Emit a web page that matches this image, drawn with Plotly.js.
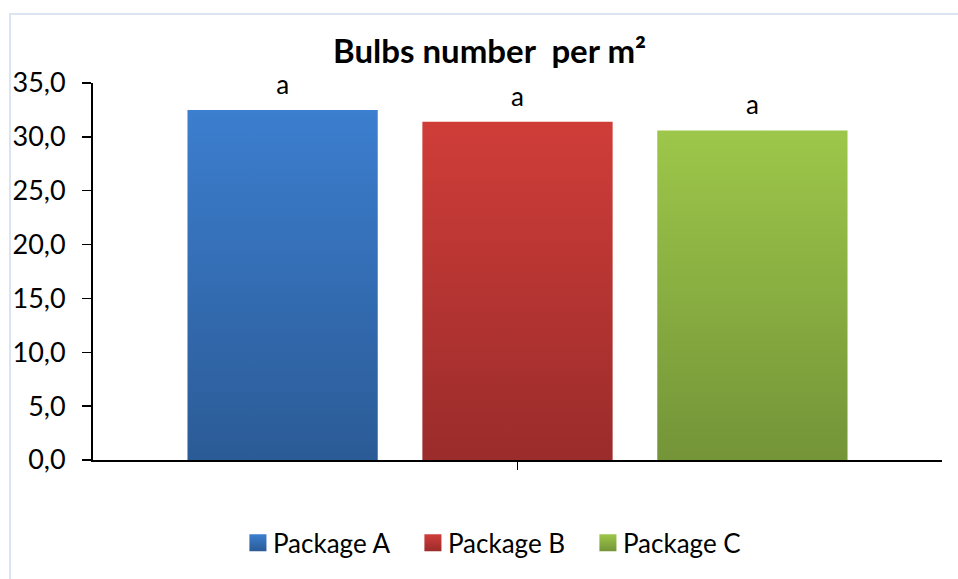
<!DOCTYPE html>
<html>
<head>
<meta charset="utf-8">
<script src="https://cdn.plot.ly/plotly-3.0.1.min.js"></script>
<style>
  html, body { margin: 0; padding: 0; background: #fff; }
  #wrap { position: relative; width: 958px; height: 579px; overflow: hidden; }
  #chart { position: absolute; left: 0; top: 0; width: 958px; height: 579px; }
  #frame { position: absolute; left: 9px; top: 13px; width: 980px; height: 600px;
           border: 2px solid #dbe5f1; pointer-events: none; box-sizing: border-box; }
</style>
</head>
<body>
<svg width="0" height="0" style="position:absolute">
  <defs>
    <linearGradient id="g0" x1="0" y1="0" x2="0" y2="1">
      <stop offset="0" stop-color="#3c7ecf"/><stop offset="1" stop-color="#2b5b96"/>
    </linearGradient>
    <linearGradient id="g1" x1="0" y1="0" x2="0" y2="1">
      <stop offset="0" stop-color="#d03d39"/><stop offset="1" stop-color="#9a2c2b"/>
    </linearGradient>
    <linearGradient id="g2" x1="0" y1="0" x2="0" y2="1">
      <stop offset="0" stop-color="#9dc74a"/><stop offset="1" stop-color="#749438"/>
    </linearGradient>
  </defs>
</svg>
<div id="wrap">
  <div id="chart"></div>
  <div id="frame"></div>
</div>
<script>
const categories = [""];
const seriesNames = ["Package A", "Package B", "Package C"];
const valuesA = [32.5];
const valuesB = [31.4];
const valuesC = [30.6];
const letters = ["a", "a", "a"];
const seriesValues = [valuesA, valuesB, valuesC];
const colors = ["#3470b7", "#b83532", "#8bb042"];
const yTicks = [0, 5, 10, 15, 20, 25, 30, 35];

const FONT = "Lato, Calibri, 'Open Sans', sans-serif";

const traces = seriesNames.map((name, i) => ({
  type: "bar",
  name: name,
  x: categories,
  y: seriesValues[i],
  text: [letters[i]],
  textposition: "outside",
  textfont: { family: FONT, size: 26, color: "#000" },
  cliponaxis: false,
  marker: { color: colors[i], line: { width: 0 } },
  hoverinfo: "skip"
}));

const layout = {
  width: 958,
  height: 579,
  margin: { l: 93, r: 16, t: 83, b: 119 },
  paper_bgcolor: "rgba(0,0,0,0)",
  plot_bgcolor: "rgba(0,0,0,0)",
  separators: ",.",
  font: { family: FONT, size: 26, color: "#000" },
  title: {
    text: "Bulbs number\u00a0 per m\u00b2",
    font: { family: FONT, size: 33, color: "#000", weight: "bold" },
    x: 0.511, xref: "container", xanchor: "center",
    y: 0.912, yref: "container", yanchor: "middle"
  },
  barmode: "group",
  bargap: 0.17,
  bargroupgap: 0.19,
  showlegend: true,
  legend: {
    orientation: "h",
    x: 0.474, xanchor: "center",
    y: -0.22, yanchor: "middle",
    font: { family: FONT, size: 26, color: "#000" },
    itemwidth: 30,
    entrywidth: 130,
    entrywidthmode: "pixels",
    traceorder: "normal"
  },
  xaxis: {
    type: "category",
    showticklabels: false,
    showline: true, linecolor: "#000", linewidth: 2,
    ticks: "outside", ticklen: 8, tickwidth: 1.5, tickcolor: "#000",
    showgrid: false, zeroline: false, fixedrange: true
  },
  yaxis: {
    range: [0, 35],
    tickmode: "array",
    tickvals: yTicks,
    tickformat: ".1f",
    showline: true, linecolor: "#000", linewidth: 2,
    ticks: "outside", ticklen: 9, tickwidth: 1.5, tickcolor: "#000",
    ticklabelstandoff: 11,
    tickfont: { family: FONT, size: 27, color: "#000" },
    showgrid: false, zeroline: false, fixedrange: true
  },
  yaxis2: {
    overlaying: "y",
    side: "left",
    range: [0, 35],
    tickmode: "array",
    tickvals: yTicks,
    ticks: "inside", ticklen: 9, tickwidth: 1.5, tickcolor: "#000",
    showticklabels: false, showline: false,
    showgrid: false, zeroline: false, fixedrange: true
  },
  shapes: [
    { type: "line", xref: "paper", yref: "y", x0: 1, x1: 1,
      ysizemode: "pixel", yanchor: 0, y0: 0, y1: -8, line: { color: "#000", width: 1.5 } },
    { type: "line", xref: "paper", yref: "y", x0: 0, x1: 0,
      ysizemode: "pixel", yanchor: 0, y0: 0, y1: -9, line: { color: "#000", width: 2 } }
  ]
};

Plotly.newPlot("chart", traces, layout, { displayModeBar: false, staticPlot: true }).then(gd => {
  const groups = gd.querySelectorAll(".barlayer .trace");
  groups.forEach((g, i) => {
    g.querySelectorAll("path").forEach(p => { p.style.fill = "url(#g" + i + ")"; });
    g.querySelectorAll("text").forEach(t => {
      const tr = t.getAttribute("transform") || "";
      t.setAttribute("transform", "translate(0,-7) " + tr);
    });
  });
  const leg = gd.querySelectorAll(".legend .traces");
  leg.forEach((g, i) => {
    g.querySelectorAll(".legendpoints path").forEach(p => {
      p.style.fill = "url(#g" + i + ")";
      p.setAttribute("transform", "translate(25,0) scale(1.42)");
    });
  });
});
</script>
</body>
</html>
